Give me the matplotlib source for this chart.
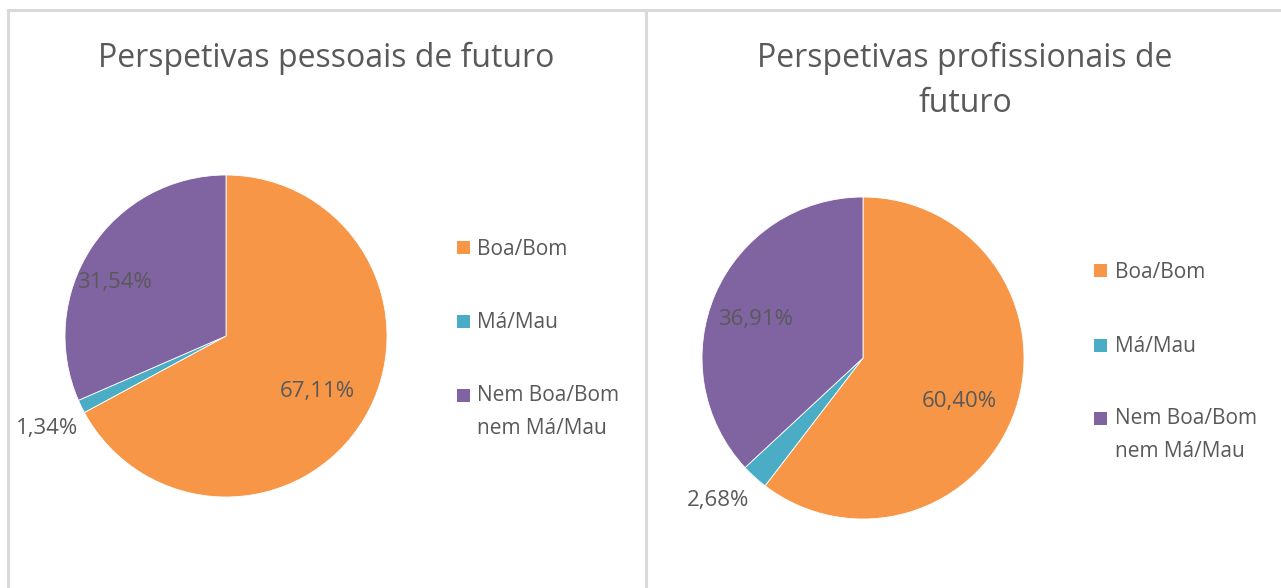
import matplotlib
matplotlib.use("Agg")
import matplotlib.pyplot as plt
from matplotlib.patches import Rectangle
from matplotlib.lines import Line2D

# ---- data ----
categories = ["Boa/Bom", "Má/Mau", "Nem Boa/Bom\nnem Má/Mau"]
pessoais = [67.11, 1.34, 31.54]
profissionais = [60.40, 2.68, 36.91]
titles = ["Perspetivas pessoais de futuro", "Perspetivas profissionais de\nfuturo"]
colors = ["#F79646", "#4BACC6", "#8064A2"]

TXT = "#595959"
FONT = ["Open Sans", "DejaVu Sans"]
W, H = 1281, 588

fig = plt.figure(figsize=(W / 100, H / 100), dpi=100)
fig.patch.set_facecolor("white")


def fx(px):
    return px / W


def fy(py):
    return 1 - py / H


# panel borders
border = "#D9D9D9"
fig.add_artist(Line2D([fx(8), fx(W)], [fy(10), fy(10)], color=border, lw=2.2))
fig.add_artist(Line2D([fx(8), fx(8)], [fy(10), fy(H)], color=border, lw=2.2))
fig.add_artist(Line2D([fx(646), fx(646)], [fy(10), fy(H)], color=border, lw=2.2))

panels = [
    dict(vals=pessoais, cx=226, cy=336, r=161,
         lab=[(0.565, -0.345), (-1.11, -0.575), (-0.69, 0.33)],
         title_xy=(326, 58), leg_sq=457, leg_tx=477, leg_y=[247, 321, 410]),
    dict(vals=profissionais, cx=863, cy=358, r=161,
         lab=[(0.60, -0.27), (-0.90, -0.886), (-0.67, 0.24)],
         title_xy=(965, 81), leg_sq=1094, leg_tx=1115, leg_y=[270, 345, 433]),
]

for p, title in zip(panels, titles):
    r = p["r"]
    ax = fig.add_axes([fx(p["cx"] - r), fy(p["cy"] + r), 2 * r / W, 2 * r / H])
    wedges, _ = ax.pie(p["vals"], colors=colors, startangle=90, counterclock=False,
                       wedgeprops=dict(linewidth=0.6, edgecolor="white"))
    ax.set_xlim(-1, 1)
    ax.set_ylim(-1, 1)
    ax.set_aspect("equal")
    ax.axis("off")
    for v, (lx, ly) in zip(p["vals"], p["lab"]):
        ax.text(lx, ly, f"{v:.2f}%".replace(".", ","), ha="center", va="center",
                fontsize=16, color=TXT, family=FONT, clip_on=False)

    tx, ty = p["title_xy"]
    fig.text(fx(tx), fy(ty), title, ha="center", va="center", fontsize=23,
             color=TXT, family=FONT, linespacing=1.5)

    # legend
    sq = 13
    for c, lbl, yy in zip(colors, categories, p["leg_y"]):
        sq_y = yy - 15 if "\n" in lbl else yy
        fig.add_artist(Rectangle((fx(p["leg_sq"]), fy(sq_y + sq / 2)), sq / W, sq / H,
                                 facecolor=c, edgecolor="none"))
        fig.text(fx(p["leg_tx"]), fy(yy + 2), lbl, ha="left", va="center",
                 fontsize=15, color=TXT, family=FONT, linespacing=1.7)

fig.savefig("out.png", dpi=100, facecolor="white")
